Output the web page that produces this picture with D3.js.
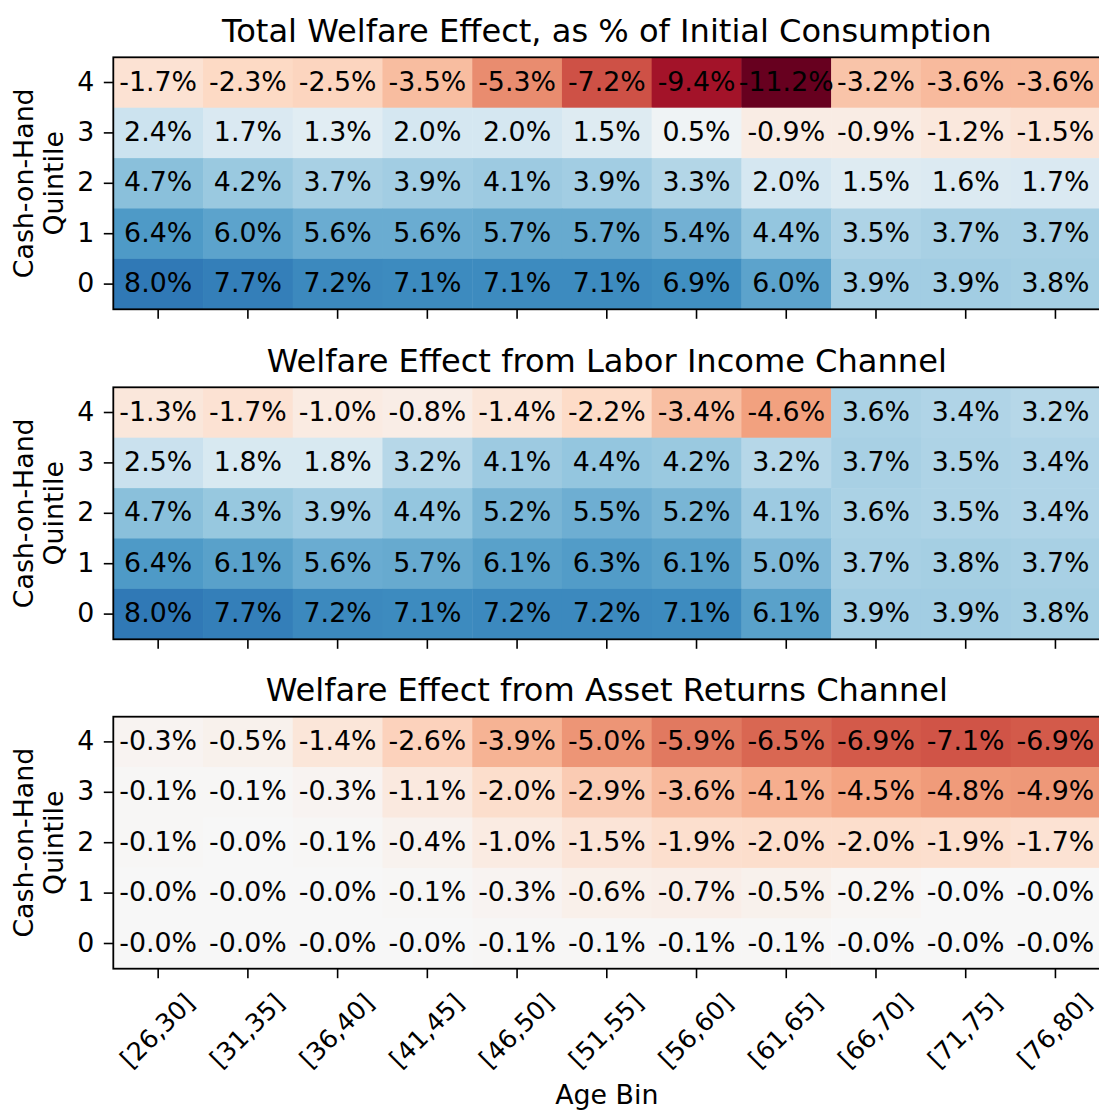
<!DOCTYPE html>
<html>
<head>
<meta charset="utf-8">
<script src="https://cdn.jsdelivr.net/npm/d3@7"></script>
<style>
  html, body { margin: 0; padding: 0; background: #fff; overflow: hidden; }
  text { font-family: "DejaVu Sans", sans-serif; fill: #000; }
</style>
</head>
<body>
<svg id="chart" width="1099" height="1110"></svg>
<script>
// age bins (columns) and cash-on-hand quintiles (rows, top to bottom)
var ageBins = ["[26,30]", "[31,35]", "[36,40]", "[41,45]", "[46,50]", "[51,55]",
  "[56,60]", "[61,65]", "[66,70]", "[71,75]", "[76,80]"];
var quintiles = [4, 3, 2, 1, 0];

var titles = [
  "Total Welfare Effect, as % of Initial Consumption",
  "Welfare Effect from Labor Income Channel",
  "Welfare Effect from Asset Returns Channel"
];

// values in %, one row per quintile, in the order of `quintiles`
var totalEffect = [
  [-1.7, -2.3, -2.5, -3.5, -5.3, -7.2, -9.4, -11.2, -3.2, -3.6, -3.6],
  [2.4, 1.7, 1.3, 2.0, 2.0, 1.5, 0.5, -0.9, -0.9, -1.2, -1.5],
  [4.7, 4.2, 3.7, 3.9, 4.1, 3.9, 3.3, 2.0, 1.5, 1.6, 1.7],
  [6.4, 6.0, 5.6, 5.6, 5.7, 5.7, 5.4, 4.4, 3.5, 3.7, 3.7],
  [8.0, 7.7, 7.2, 7.1, 7.1, 7.1, 6.9, 6.0, 3.9, 3.9, 3.8]
];
var laborEffect = [
  [-1.3, -1.7, -1.0, -0.8, -1.4, -2.2, -3.4, -4.6, 3.6, 3.4, 3.2],
  [2.5, 1.8, 1.8, 3.2, 4.1, 4.4, 4.2, 3.2, 3.7, 3.5, 3.4],
  [4.7, 4.3, 3.9, 4.4, 5.2, 5.5, 5.2, 4.1, 3.6, 3.5, 3.4],
  [6.4, 6.1, 5.6, 5.7, 6.1, 6.3, 6.1, 5.0, 3.7, 3.8, 3.7],
  [8.0, 7.7, 7.2, 7.1, 7.2, 7.2, 7.1, 6.1, 3.9, 3.9, 3.8]
];
var assetEffect = [
  [-0.3, -0.5, -1.4, -2.6, -3.9, -5.0, -5.9, -6.5, -6.9, -7.1, -6.9],
  [-0.1, -0.1, -0.3, -1.1, -2.0, -2.9, -3.6, -4.1, -4.5, -4.8, -4.9],
  [-0.1, -0.0, -0.1, -0.4, -1.0, -1.5, -1.9, -2.0, -2.0, -1.9, -1.7],
  [-0.0, -0.0, -0.0, -0.1, -0.3, -0.6, -0.7, -0.5, -0.2, -0.0, -0.0],
  [-0.0, -0.0, -0.0, -0.0, -0.1, -0.1, -0.1, -0.1, -0.0, -0.0, -0.0]
];

// RdBu (matplotlib-style linear segments)
var rdbu = ["#67001f", "#b2182b", "#d6604d", "#f4a582", "#fddbc7", "#f7f7f7",
  "#d1e5f0", "#92c5de", "#4393c3", "#2166ac", "#053061"];

var panels = [totalEffect, laborEffect, assetEffect];

var left = 113.3, plotW = 987, plotH = 252,
  tops = [57.3, 387.3, 716.7],
  fs = 26.8, xtickFs = 25.3, titleFs = 32.1,
  tickLen = 9.5, tickPad = 9.5;

var vmax = d3.max(panels, function (p) {
  return d3.max(p, function (r) { return d3.max(r, Math.abs); });
});
var color = d3.scaleLinear()
  .domain(d3.range(rdbu.length).map(function (i) { return -vmax + 2 * vmax * i / (rdbu.length - 1); }))
  .range(rdbu)
  .clamp(true);

function fmt(v) {
  var neg = v < 0 || Object.is(v, -0);
  return (neg ? "-" : "") + Math.abs(v).toFixed(1) + "%";
}

var svg = d3.select("#chart");

var x = d3.scaleBand().domain(ageBins).range([left, left + plotW]);

panels.forEach(function (data, p) {
  var top = tops[p];
  var y = d3.scaleBand().domain(quintiles).range([top, top + plotH]);
  var g = svg.append("g");

  var cells = [];
  data.forEach(function (row, ri) {
    row.forEach(function (v, ci) {
      cells.push({q: quintiles[ri], age: ageBins[ci], v: v});
    });
  });

  g.selectAll("rect.cell")
    .data(cells)
    .enter().append("rect")
    .attr("class", "cell")
    .attr("x", function (d) { return x(d.age); })
    .attr("y", function (d) { return y(d.q); })
    .attr("width", x.bandwidth() + 0.5)
    .attr("height", y.bandwidth() + 0.5)
    .attr("fill", function (d) { return color(d.v); });

  g.selectAll("text.val")
    .data(cells)
    .enter().append("text")
    .attr("class", "val")
    .attr("x", function (d) { return x(d.age) + x.bandwidth() / 2; })
    .attr("y", function (d) { return y(d.q) + y.bandwidth() / 2; })
    .attr("dy", "0.3em")
    .attr("text-anchor", "middle")
    .style("font-size", fs + "px")
    .text(function (d) { return fmt(d.v); });

  // frame
  g.append("rect")
    .attr("x", left)
    .attr("y", top)
    .attr("width", plotW)
    .attr("height", plotH)
    .attr("fill", "none")
    .attr("stroke", "#000")
    .attr("stroke-width", 1.8);

  // y axis
  var yAxis = d3.axisLeft(y).tickSize(tickLen).tickPadding(tickPad);
  var ya = g.append("g").attr("transform", "translate(" + left + ",0)").call(yAxis);
  ya.select(".domain").remove();
  ya.selectAll("line").attr("stroke", "#000").attr("stroke-width", 1.6);
  ya.selectAll("text")
    .attr("dy", "0.3em")
    .style("font-size", fs + "px")
    .style("font-family", "DejaVu Sans")
    .attr("fill", "#000");

  // x axis
  var xAxis = d3.axisBottom(x).tickSize(tickLen).tickPadding(tickPad);
  var xa = g.append("g").attr("transform", "translate(0," + (top + plotH) + ")").call(xAxis);
  xa.select(".domain").remove();
  xa.selectAll("line").attr("stroke", "#000").attr("stroke-width", 1.6);
  if (p < 2) {
    xa.selectAll("text").remove();
  } else {
    xa.selectAll("text").each(function () {
      var t = d3.select(this)
        .style("font-size", xtickFs + "px")
        .style("font-family", "DejaVu Sans")
        .attr("fill", "#000")
        .attr("text-anchor", "middle")
        .attr("dy", "0.35em")
        .attr("y", 0);
      var w = this.getComputedTextLength(), h = xtickFs * 1.164;
      var half = (w + h) * Math.SQRT1_2 / 2;
      t.attr("transform", "translate(-1," + (tickLen + tickPad + half) + ") rotate(-45)");
    });
  }

  // title
  g.append("text")
    .attr("x", left + plotW / 2)
    .attr("y", top - 15.6)
    .attr("text-anchor", "middle")
    .style("font-size", titleFs + "px")
    .text(titles[p]);

  // y label, two lines
  var yl = g.append("text")
    .attr("transform", "translate(0," + (top + plotH / 2) + ") rotate(-90)")
    .attr("text-anchor", "middle")
    .style("font-size", fs + "px");
  yl.append("tspan").attr("x", 0).attr("y", 33).text("Cash-on-Hand");
  yl.append("tspan").attr("x", 0).attr("y", 63).text("Quintile");
});

svg.append("text")
  .attr("x", left + plotW / 2)
  .attr("y", 1104)
  .attr("text-anchor", "middle")
  .style("font-size", fs + "px")
  .text("Age Bin");
</script>
</body>
</html>
